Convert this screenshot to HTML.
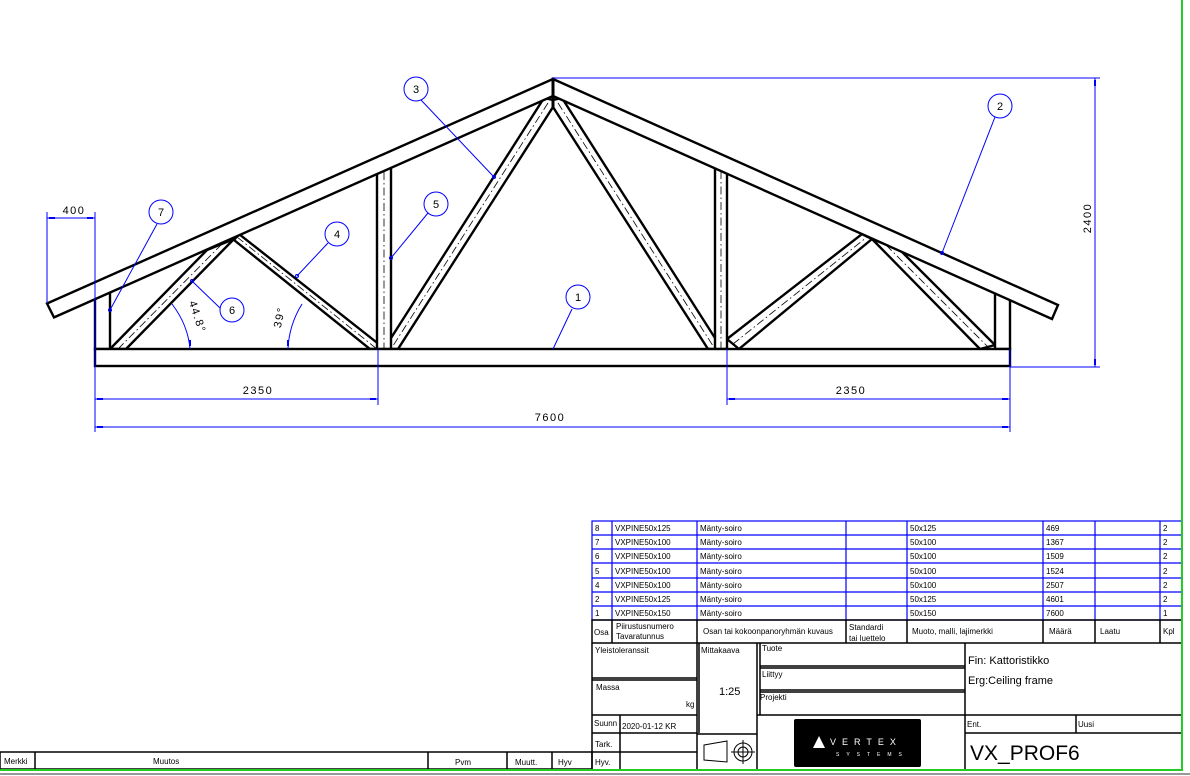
<!DOCTYPE html>
<html><head><meta charset="utf-8"><style>
html,body{margin:0;padding:0;background:#fff;}
svg{display:block;font-family:"Liberation Sans",sans-serif;}
.t{font-size:8px;fill:#000;}
.d{font-size:11px;fill:#000;letter-spacing:1.5px;}
</style></head><body>
<svg width="1190" height="776" viewBox="0 0 1190 776" xmlns="http://www.w3.org/2000/svg">
<rect width="1190" height="776" fill="#fff"/>
<g stroke="#000" stroke-width="2.4" fill="#fff" stroke-linejoin="miter">
<!-- webs -->
<polygon points="110,349 207,250 234,239 126,349"/>
<polygon points="234,240 239,234 385,349 370,349"/>
<polygon points="544,98 553,100 553,107 398,349 384,349"/>
<polygon points="562,98 553,100 553,107 708,349 722,349"/>
<polygon points="727,339 862,234 872,239 739,349"/>
<polygon points="872,239 900,250 995,345 980,349"/>
<!-- posts -->
<rect x="377" y="168" width="14" height="181"/>
<rect x="715" y="167" width="12" height="182"/>
<rect x="95" y="292" width="15" height="57"/>
<rect x="995" y="292" width="15" height="57"/>
<!-- rafters -->
<polygon points="553,79 47,303.5 54,317.4 553,96"/>
<polygon points="553,79 1058,305 1052,319 553,96"/>
<line x1="553" y1="79" x2="553" y2="108" stroke-width="3"/>
<!-- bottom chord -->
<rect x="95" y="349" width="915" height="17"/>
</g>
<!-- centerlines -->
<g stroke="#000" stroke-width="0.8" stroke-dasharray="8,3,1.5,3" fill="none">
<line x1="118" y1="349" x2="221" y2="245"/>
<line x1="237" y1="237" x2="377" y2="349"/>
<line x1="548" y1="103" x2="391" y2="349"/>
<line x1="558" y1="103" x2="715" y2="349"/>
<line x1="733" y1="344" x2="867" y2="237"/>
<line x1="886" y1="245" x2="988" y2="347"/>
<line x1="384" y1="172" x2="384" y2="349"/>
<line x1="721" y1="171" x2="721" y2="349"/>
</g>
<!-- dimensions -->
<g stroke="#0000ff" stroke-width="1" fill="none">
<line x1="47" y1="212" x2="47" y2="303"/>
<line x1="95" y1="212" x2="95" y2="432"/>
<line x1="47" y1="218" x2="95" y2="218"/>
<line x1="378" y1="349" x2="378" y2="405"/>
<line x1="727" y1="349" x2="727" y2="405"/>
<line x1="1010" y1="349" x2="1010" y2="432"/>
<line x1="95" y1="399" x2="378" y2="399"/>
<line x1="727" y1="399" x2="1010" y2="399"/>
<line x1="95" y1="427" x2="1010" y2="427"/>
<line x1="553" y1="78" x2="1100" y2="78"/>
<line x1="1010" y1="367" x2="1100" y2="367"/>
<line x1="1095" y1="78" x2="1095" y2="367"/>
<!-- leaders -->
<line x1="421" y1="100" x2="494" y2="177"/>
<line x1="995" y1="117" x2="942" y2="253"/>
<line x1="157" y1="224" x2="110" y2="310"/>
<line x1="428" y1="213" x2="391" y2="258"/>
<line x1="328" y1="243" x2="297" y2="276"/>
<line x1="220" y1="308" x2="192" y2="281"/>
<line x1="572" y1="309" x2="553" y2="349"/>
<!-- arcs -->
<path d="M172,304 Q188,325 190,349"/>
<path d="M302,304 Q289,325 288,349"/>
<circle cx="416" cy="89" r="12"/>
<circle cx="1000" cy="106" r="12"/>
<circle cx="161" cy="212" r="12"/>
<circle cx="436" cy="204" r="12"/>
<circle cx="337" cy="234" r="12"/>
<circle cx="232" cy="310" r="12"/>
<circle cx="578" cy="297" r="12"/>
<circle cx="494" cy="177" r="1.5"/>
<circle cx="942" cy="253" r="1.5"/>
<circle cx="110" cy="310" r="1.5"/>
<circle cx="391" cy="258" r="1.5"/>
<circle cx="297" cy="276" r="1.5"/>
<circle cx="192" cy="281" r="1.5"/>
</g>
<g fill="#0000ff">
<rect x="49" y="217" width="6" height="2"/><rect x="87" y="217" width="6" height="2"/>
<rect x="97" y="398" width="6" height="2"/><rect x="370" y="398" width="6" height="2"/>
<rect x="729" y="398" width="6" height="2"/><rect x="1002" y="398" width="6" height="2"/>
<rect x="97" y="426" width="6" height="2"/><rect x="1002" y="426" width="6" height="2"/>
<rect x="1094" y="80" width="2" height="6"/><rect x="1094" y="359" width="2" height="6"/>
<rect x="189" y="340" width="2" height="6"/><rect x="287" y="340" width="2" height="6"/>
</g>
<g class="d" text-anchor="middle">
<text x="74" y="214">400</text>
<text x="258" y="394">2350</text>
<text x="851" y="394">2350</text>
<text x="550" y="421">7600</text>
<text transform="translate(1091,218) rotate(-90)">2400</text>
<text transform="translate(194,318) rotate(72)" font-size="11">44.8°</text>
<text transform="translate(283,318) rotate(-78)" font-size="11">39°</text>
</g>
<g font-size="11" text-anchor="middle" fill="#000">
<text x="416" y="93">3</text><text x="1000" y="110">2</text><text x="161" y="216">7</text>
<text x="436" y="208">5</text><text x="337" y="238">4</text><text x="232" y="314">6</text><text x="578" y="301">1</text>
</g>
<!-- parts table -->
<g stroke="#0000ff" stroke-width="1.2" fill="none">
<rect x="592" y="521" width="590" height="99"/>
<line x1="592" y1="535" x2="1182" y2="535"/><line x1="592" y1="549" x2="1182" y2="549"/>
<line x1="592" y1="563" x2="1182" y2="563"/><line x1="592" y1="578" x2="1182" y2="578"/>
<line x1="592" y1="592" x2="1182" y2="592"/><line x1="592" y1="606" x2="1182" y2="606"/>
<line x1="612" y1="521" x2="612" y2="620"/><line x1="697" y1="521" x2="697" y2="620"/>
<line x1="846" y1="521" x2="846" y2="620"/><line x1="907" y1="521" x2="907" y2="620"/>
<line x1="1043" y1="521" x2="1043" y2="620"/><line x1="1095" y1="521" x2="1095" y2="620"/>
<line x1="1160" y1="521" x2="1160" y2="620"/>
</g>
<g class="t">
<text x="595" y="531">8</text><text x="615" y="531">VXPINE50x125</text><text x="700" y="531">Mänty-soiro</text><text x="910" y="531">50x125</text><text x="1046" y="531">469</text><text x="1163" y="531">2</text>
<text x="595" y="545">7</text><text x="615" y="545">VXPINE50x100</text><text x="700" y="545">Mänty-soiro</text><text x="910" y="545">50x100</text><text x="1046" y="545">1367</text><text x="1163" y="545">2</text>
<text x="595" y="559">6</text><text x="615" y="559">VXPINE50x100</text><text x="700" y="559">Mänty-soiro</text><text x="910" y="559">50x100</text><text x="1046" y="559">1509</text><text x="1163" y="559">2</text>
<text x="595" y="574">5</text><text x="615" y="574">VXPINE50x100</text><text x="700" y="574">Mänty-soiro</text><text x="910" y="574">50x100</text><text x="1046" y="574">1524</text><text x="1163" y="574">2</text>
<text x="595" y="588">4</text><text x="615" y="588">VXPINE50x100</text><text x="700" y="588">Mänty-soiro</text><text x="910" y="588">50x100</text><text x="1046" y="588">2507</text><text x="1163" y="588">2</text>
<text x="595" y="602">2</text><text x="615" y="602">VXPINE50x125</text><text x="700" y="602">Mänty-soiro</text><text x="910" y="602">50x125</text><text x="1046" y="602">4601</text><text x="1163" y="602">2</text>
<text x="595" y="616">1</text><text x="615" y="616">VXPINE50x150</text><text x="700" y="616">Mänty-soiro</text><text x="910" y="616">50x150</text><text x="1046" y="616">7600</text><text x="1163" y="616">1</text>
<text x="594" y="635">Osa</text><text x="616" y="629">Piirustusnumero</text><text x="616" y="639">Tavaratunnus</text>
<text x="703" y="634">Osan tai kokoonpanoryhmän kuvaus</text><text x="849" y="630">Standardi</text><text x="849" y="641">tai luettelo</text>
<text x="912" y="634">Muoto, malli, lajimerkki</text><text x="1049" y="634">Määrä</text><text x="1100" y="634">Laatu</text><text x="1163" y="634">Kpl</text>
</g>
<!-- title block -->
<g stroke="#000" stroke-width="1.5" fill="none">
<rect x="592" y="620" width="590" height="23"/>
<line x1="612" y1="620" x2="612" y2="643"/><line x1="697" y1="620" x2="697" y2="643"/>
<line x1="846" y1="620" x2="846" y2="643"/><line x1="907" y1="620" x2="907" y2="643"/>
<line x1="1043" y1="620" x2="1043" y2="643"/><line x1="1095" y1="620" x2="1095" y2="643"/>
<line x1="1160" y1="620" x2="1160" y2="643"/>
<line x1="592" y1="643" x2="592" y2="769"/>
<line x1="592" y1="678" x2="697" y2="678"/><line x1="592" y1="680" x2="697" y2="680"/>
<line x1="592" y1="715" x2="697" y2="715"/><line x1="592" y1="733" x2="697" y2="733"/>
<line x1="592" y1="752" x2="697" y2="752"/>
<line x1="620" y1="715" x2="620" y2="769"/>
<line x1="697" y1="643" x2="697" y2="769"/><line x1="699" y1="643" x2="699" y2="733"/>
<line x1="697" y1="734" x2="757" y2="734"/>
<line x1="757" y1="643" x2="757" y2="769"/><line x1="760" y1="643" x2="760" y2="715"/>
<line x1="760" y1="666" x2="965" y2="666"/><line x1="760" y1="668" x2="965" y2="668"/>
<line x1="760" y1="690" x2="965" y2="690"/><line x1="760" y1="692" x2="965" y2="692"/>
<line x1="757" y1="715" x2="1182" y2="715"/>
<line x1="965" y1="643" x2="965" y2="769"/>
<line x1="965" y1="733" x2="1182" y2="733"/><line x1="1076" y1="715" x2="1076" y2="733"/>
<rect x="0" y="752" width="592" height="17"/>
<line x1="35" y1="752" x2="35" y2="769"/><line x1="428" y1="752" x2="428" y2="769"/>
<line x1="507" y1="752" x2="507" y2="769"/><line x1="552" y1="752" x2="552" y2="769"/>
<!-- projection symbol -->
<path d="M704,745 L727,741 L727,762 L704,760 Z" stroke-width="1"/>
<circle cx="743" cy="752" r="9" stroke-width="1"/><circle cx="743" cy="752" r="5" stroke-width="1"/>
<line x1="731" y1="752" x2="755" y2="752" stroke-width="1"/><line x1="743" y1="740" x2="743" y2="764" stroke-width="1"/>
</g>
<g class="t">
<text x="595" y="653">Yleistoleranssit</text><text x="596" y="690">Massa</text><text x="686" y="707">kg</text>
<text x="594" y="726">Suunn</text><text x="622" y="729">2020-01-12 KR</text><text x="595" y="747">Tark.</text><text x="595" y="765">Hyv.</text>
<text x="701" y="653">Mittakaava</text><text x="762" y="651">Tuote</text><text x="762" y="677">Liittyy</text><text x="760" y="700">Projekti</text>
<text x="967" y="727">Ent.</text><text x="1078" y="727">Uusi</text>
<text x="4" y="764">Merkki</text><text x="153" y="764">Muutos</text><text x="455" y="765">Pvm</text><text x="515" y="765">Muutt.</text><text x="558" y="765">Hyv</text>
</g>
<text x="719" y="695" font-size="11" fill="#000">1:25</text>
<text x="968" y="664" font-size="11" fill="#000">Fin: Kattoristikko</text>
<text x="968" y="684" font-size="11" fill="#000">Erg:Ceiling frame</text>
<text x="970" y="760" font-size="21" fill="#000">VX_PROF6</text>
<rect x="794" y="719" width="127" height="48" rx="2" fill="#000"/>
<polygon points="813,748 819,736 825,748" fill="#fff"/>
<text x="830" y="745" font-size="9" fill="#fff" letter-spacing="6">VERTEX</text>
<text x="836" y="756" font-size="5" fill="#fff" letter-spacing="7">SYSTEMS</text>
<!-- border -->
<line x1="1182" y1="0" x2="1182" y2="770" stroke="#22cc22" stroke-width="2"/>
<line x1="0" y1="770" x2="1183" y2="770" stroke="#22cc22" stroke-width="2"/>
<line x1="0" y1="774" x2="1190" y2="774" stroke="#777" stroke-width="1.5"/>
</svg>
</body></html>
